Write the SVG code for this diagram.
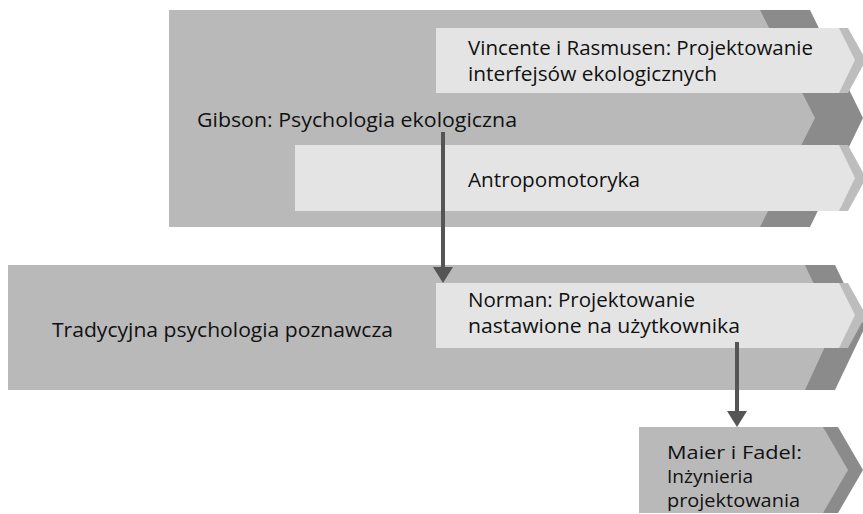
<svg xmlns="http://www.w3.org/2000/svg" width="863" height="514" viewBox="0 0 863 514">
<style>
.mid{fill:#b9b9b9}
.dark{fill:#8b8b8b}
.light{fill:#e4e4e4}
.band{fill:#bdbdbd}
text{font-family:"Open Sans","Liberation Sans",sans-serif;font-size:20.5px;fill:#111}
.small{font-size:17.5px}
.conn{stroke:#555;stroke-width:4;fill:none}
</style>
<defs>
<marker id="ah" markerUnits="userSpaceOnUse" markerWidth="16" markerHeight="20" refX="8" refY="10" orient="auto">
<path d="M0,0 L16,10 L0,20 z" fill="#555"/>
</marker>
</defs>
<rect width="863" height="514" fill="#fff"/>
<g id="gibson">
<polygon class="dark" points="169,10 810,10 863,118 810,227 169,227"/>
<polygon class="mid" points="169,10 760,10 815,118 760,227 169,227"/>
<text x="197" y="127" textLength="320" lengthAdjust="spacingAndGlyphs">Gibson: Psychologia ekologiczna</text>
</g>
<g id="vincente">
<polygon class="band" points="436,28 848,28 866,60 848,93 436,93"/>
<polygon class="light" points="436,28 839,28 855,60 839,93 436,93"/>
<text x="468" y="55" textLength="345" lengthAdjust="spacingAndGlyphs">Vincente i Rasmusen: Projektowanie</text>
<text x="468" y="81" textLength="249" lengthAdjust="spacingAndGlyphs">interfejsów ekologicznych</text>
</g>
<g id="antropomotoryka">
<polygon class="band" points="295,145 848,145 866,178 848,211 295,211"/>
<polygon class="light" points="295,145 839,145 855,178 839,211 295,211"/>
<text x="468" y="187" textLength="172" lengthAdjust="spacingAndGlyphs">Antropomotoryka</text>
</g>
<g id="tradycyjna">
<polygon class="dark" points="8,265 835,265 865,327 835,390 8,390"/>
<polygon class="mid" points="8,265 805,265 834,327 805,390 8,390"/>
<text x="52" y="337" textLength="341" lengthAdjust="spacingAndGlyphs">Tradycyjna psychologia poznawcza</text>
</g>
<g id="norman">
<polygon class="band" points="436,283 848,283 866,315 848,348 436,348"/>
<polygon class="light" points="436,283 839,283 855,315 839,348 436,348"/>
<text x="468" y="307" textLength="227" lengthAdjust="spacingAndGlyphs">Norman: Projektowanie</text>
<text x="468" y="333" textLength="272" lengthAdjust="spacingAndGlyphs">nastawione na użytkownika</text>
</g>
<g id="maier">
<polygon class="dark" points="639,427 838,427 863,470 838,513 639,513"/>
<polygon class="mid" points="639,427 823,427 848,470 823,513 639,513"/>
<text class="small" x="667" y="459" textLength="135" lengthAdjust="spacingAndGlyphs">Maier i Fadel:</text>
<text class="small" x="667" y="483" textLength="86" lengthAdjust="spacingAndGlyphs">Inżynieria</text>
<text class="small" x="667" y="507" textLength="133" lengthAdjust="spacingAndGlyphs">projektowania</text>
</g>
<g id="connectors">
<line class="conn" x1="443" y1="132" x2="443" y2="275" marker-end="url(#ah)"/>
<line class="conn" x1="737" y1="342" x2="737" y2="419" marker-end="url(#ah)"/>
</g>
</svg>
